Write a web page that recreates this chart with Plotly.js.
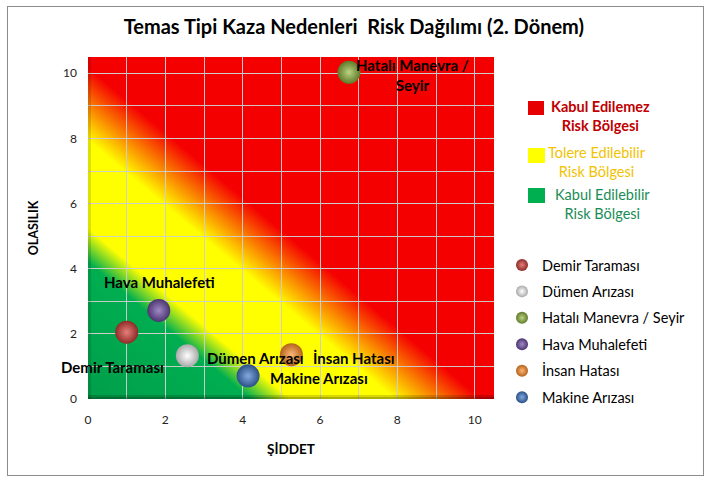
<!DOCTYPE html>
<html><head><meta charset="utf-8">
<script src="https://cdn.plot.ly/plotly-3.0.1.min.js"></script>
<style>
html,body{margin:0;padding:0;background:#fff}
#wrap{position:relative;width:712px;height:483px}
#chart{width:712px;height:483px}
#frame{position:absolute;left:7px;top:6px;width:695px;height:468px;border:1px solid #8c8c8c;pointer-events:none}
</style>
</head><body>
<div id="wrap"><div id="chart"></div><div id="frame"></div></div>
<script>
// ---- data ----
const causes = ['Demir Taraması','Dümen Arızası','Hatalı Manevra / Seyir','Hava Muhalefeti','İnsan Hatası','Makine Arızası'];
const severity = [1.0, 2.57, 6.75, 1.83, 5.26, 4.14];      // ŞİDDET
const probability = [2.05, 1.33, 10.03, 2.72, 1.36, 0.71]; // OLASILIK
const pointLabels = ['Demir Taraması','Dümen Arızası','Hatalı Manevra /<br>Seyir','Hava Muhalefeti','İnsan Hatası','Makine Arızası'];
const zoneNames = ['Kabul Edilemez<br>Risk Bölgesi','Tolere Edilebilir<br>Risk Bölgesi','Kabul Edilebilir<br>Risk Bölgesi'];
const xTickVals = [0,2,4,6,8,10];
const yTickVals = [0,2,4,6,8,10];

// ---- styles ----
const FONT = 'Lato, "Open Sans", sans-serif';
const edgeColors   = ['#8E2A27','#A9A9A9','#5E7A2A','#4B3470','#B5621A','#2A5088'];
const centerColors = ['#E5807C','#FFFFFF','#BCD383','#A08AC6','#FAB877','#83AADD'];
const labelShift = [[-14,-35],[68,-2],[63,-3],[1,28],[63,-3],[71,-2]];
const zoneSquareColors = ['#E60000','#FFFF00','#00B050'];
const zoneTextColors = ['#C00000','#F2C200','#1A8C55'];
const zoneTextBold = [true,false,false];

const L=88, T=57, W=406, H=342;
const px = X => (X - L)/W;
const py = Y => (T + H - Y)/H;

const svg = "<svg xmlns='http://www.w3.org/2000/svg' width='420' height='420' viewBox='0 0 420 420' preserveAspectRatio='none'>" +
 "<defs><linearGradient id='g' x1='0' y1='1' x2='1' y2='0'>" +
 "<stop offset='0' stop-color='#009E4A'/><stop offset='0.2' stop-color='#00AE50'/>" +
 "<stop offset='0.25' stop-color='#FFFF00'/><stop offset='0.378' stop-color='#FFFF00'/>" +
 "<stop offset='0.485' stop-color='#F50000'/><stop offset='1' stop-color='#F50000'/>" +
 "</linearGradient></defs><rect width='420' height='420' fill='url(#g)'/></svg>";

const traces = causes.map((c,i)=>({
  type:'scatter', mode:'markers', name:c, legendgroup:'g'+i,
  x:[severity[i]], y:[probability[i]],
  marker:{size:23, color:edgeColors[i], line:{width:0},
          gradient:{type:'radial', color:centerColors[i]}},
  hoverinfo:'name'
}));

const annotations = causes.map((c,i)=>({
  x:severity[i], y:probability[i], xref:'x', yref:'y',
  text:'<b>'+pointLabels[i]+'</b>', showarrow:false,
  xanchor:'center', yanchor:'middle', align:'center',
  xshift:labelShift[i][0], yshift:labelShift[i][1],
  font:{family:FONT, size:15, color:'#000'}
}));

const zoneCenters = [[600,116],[597,162],[602,204]];
const zoneSquares = [[528,101,544,115],[528,148,545,163],[528,188,545,203]];
const shapes = [
  {type:'line', xref:'x', yref:'y', x0:0, x1:10.5, y0:0, y1:0, line:{color:'rgba(0,0,0,0.16)', width:8}},
  {type:'line', xref:'x', yref:'y', x0:0, x1:10.5, y0:0, y1:0, line:{color:'rgba(0,0,0,0.18)', width:4}},
  {type:'line', xref:'x', yref:'y', x0:0, x1:0, y0:0, y1:10.5, line:{color:'rgba(0,0,0,0.12)', width:6}}
];
zoneNames.forEach((z,i)=>{
  annotations.push({
    xref:'paper', yref:'paper', x:px(zoneCenters[i][0]), y:py(zoneCenters[i][1]),
    text: zoneTextBold[i] ? '<b>'+z+'</b>' : z, showarrow:false,
    xanchor:'center', yanchor:'middle', align:'center',
    font:{family:FONT, size:14.5, color:zoneTextColors[i]}
  });
  const s = zoneSquares[i];
  shapes.push({type:'rect', xref:'paper', yref:'paper', x0:px(s[0]), x1:px(s[2]), y0:py(s[3]), y1:py(s[1]),
    fillcolor:zoneSquareColors[i], line:{width:0}});
});

const gridColor = 'rgba(205,205,205,0.95)';
const layout = {
  width:712, height:483,
  margin:{l:L, r:712-L-W, t:T, b:483-T-H},
  paper_bgcolor:'#fff', plot_bgcolor:'rgba(0,0,0,0)',
  font:{family:FONT, color:'#000'},
  title:{text:'Temas Tipi Kaza Nedenleri \u00a0Risk Dağılımı (2. Dönem)', xref:'container', x:0.497, y:1-27/483, yanchor:'middle',
         font:{family:FONT, size:20, color:'#000', weight:'bold'}},
  xaxis:{range:[0,10.5], tickvals:xTickVals, showgrid:true, gridcolor:gridColor, gridwidth:1,
         minor:{dtick:1, tick0:0, showgrid:true, gridcolor:gridColor, gridwidth:1},
         zeroline:false, showline:false, ticks:'', ticklabelstandoff:12,
         tickfont:{family:FONT, size:12, color:'#222'},
         title:{text:'<b>ŞİDDET</b>', standoff:18, font:{family:FONT, size:13.5, color:'#000'}}},
  yaxis:{range:[0,10.5], tickvals:yTickVals, showgrid:true, gridcolor:gridColor, gridwidth:1,
         minor:{dtick:1, tick0:0, showgrid:true, gridcolor:gridColor, gridwidth:1},
         zeroline:false, showline:false, ticks:'', ticklabelstandoff:10,
         tickfont:{family:FONT, size:12, color:'#222'},
         title:{text:'<b>OLASILIK</b>', standoff:21, font:{family:FONT, size:12.5, color:'#000'}}},
  images:[{source:'data:image/svg+xml;charset=utf-8,'+encodeURIComponent(svg),
           xref:'x', yref:'y', x:0, y:10.5, sizex:10.5, sizey:10.5,
           xanchor:'left', yanchor:'top', sizing:'stretch', layer:'below'}],
  legend:{x:px(502), y:py(249), xanchor:'left', yanchor:'top', bgcolor:'rgba(0,0,0,0)',
          itemsizing:'constant', tracegroupgap:4.6, font:{family:FONT, size:14.5, color:'#000'}},
  showlegend:true,
  annotations:annotations, shapes:shapes
};

Plotly.newPlot('chart', traces, layout, {displayModeBar:false, staticPlot:true});
</script>
</body></html>
